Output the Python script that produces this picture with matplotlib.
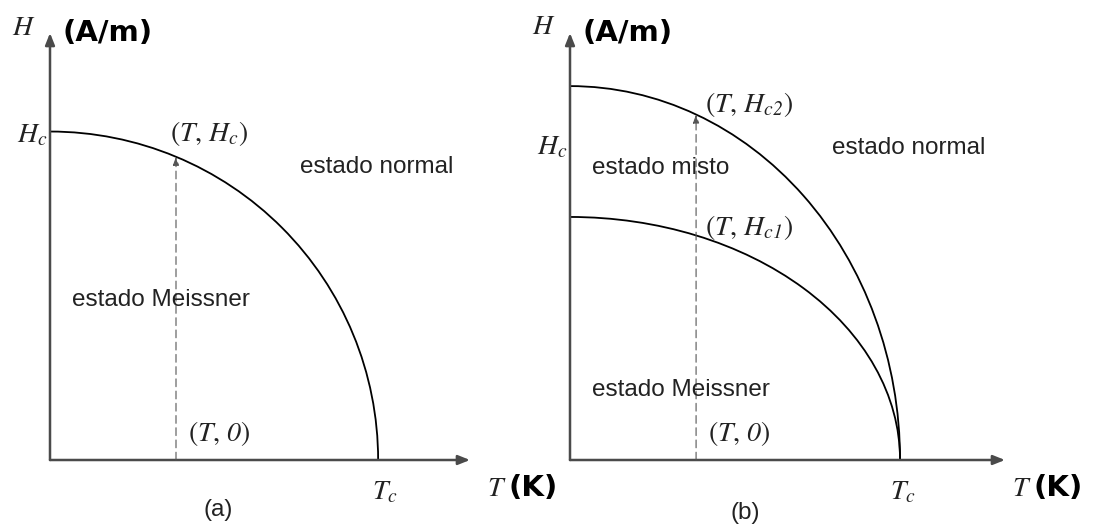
import numpy as np
import matplotlib
matplotlib.use("Agg")
import matplotlib.pyplot as plt
from matplotlib.patches import Arc

plt.rcParams["mathtext.fontset"] = "custom"
plt.rcParams["mathtext.rm"] = "STIXGeneral"
plt.rcParams["mathtext.it"] = "STIXGeneral:italic"
# italic digits: \mathsf is mapped to the italic face
plt.rcParams["mathtext.sf"] = "STIXGeneral:italic"

# Critical-field curves (reduced units: Tc = 1)
a_Tc = 1.0
a_Hc = 1.0
a_xmax, a_ymax = 1.28, 1.30

b_Tc = 1.0
b_Hc2 = 1.0
b_Hc1 = 0.65
b_Hc_tick = 0.85
b_xmax, b_ymax = 1.318, 1.142

probe_T = [0.384, 0.382]

SANS = "Liberation Sans"
AXIS_COL = "#4a4a4a"
TXT_COL = "#222222"
MATH_SIZE = 20
SANS_SIZE = 17.5
BOLD_SIZE = 21


def draw_axes(ax, xmax, ymax):
    arrow = dict(arrowstyle="-|>,head_length=0.7,head_width=0.28",
                 color=AXIS_COL, lw=1.8, shrinkA=0, shrinkB=0)
    ax.annotate("", xy=(xmax, 0), xytext=(0, 0), arrowprops=arrow)
    ax.annotate("", xy=(0, ymax), xytext=(0, 0), arrowprops=arrow)


def draw_curve(ax, tc, hc):
    ax.add_patch(Arc((0, 0), 2 * tc, 2 * hc, theta1=0, theta2=90,
                     color="black", lw=1.3))


def draw_probe(ax, t, tc, hc):
    top = hc * np.sqrt(1 - (t / tc) ** 2)
    ax.annotate("", xy=(t, top), xytext=(t, 0),
                arrowprops=dict(arrowstyle="-|>,head_length=0.5,head_width=0.18",
                                color="#555555", lw=0.8, ls=(0, (7, 4)),
                                shrinkA=0, shrinkB=0))


def math(ax, x, y, s, ha="left", size=MATH_SIZE):
    ax.text(x, y, s, ha=ha, va="center", fontsize=size, color=TXT_COL,
            clip_on=False)


def sans(ax, x, y, s, ha="left"):
    ax.text(x, y, s, ha=ha, va="center", fontsize=SANS_SIZE, family=SANS,
            color=TXT_COL, clip_on=False)


def bold(ax, x, y, s, ha="left"):
    ax.text(x, y, s, ha=ha, va="center", fontsize=BOLD_SIZE,
            family="DejaVu Sans", weight="bold", color="black", clip_on=False)


fig = plt.figure(figsize=(10.95, 5.29), dpi=100)
ax_a = fig.add_axes([50 / 1095, 69 / 529, 420 / 1095, 427 / 529])
ax_b = fig.add_axes([570 / 1095, 69 / 529, 435 / 1095, 427 / 529])

for ax, xmax, ymax in [(ax_a, a_xmax, a_ymax), (ax_b, b_xmax, b_ymax)]:
    ax.set_xlim(0, xmax)
    ax.set_ylim(0, ymax)
    ax.axis("off")
    draw_axes(ax, xmax, ymax)

# (a) type I superconductor
draw_curve(ax_a, a_Tc, a_Hc)
draw_probe(ax_a, probe_T[0], a_Tc, a_Hc)
math(ax_a, -0.079, 1.319, r"$H$", ha="center")
bold(ax_a, 0.038, 1.300, "(A/m)")
math(ax_a, -0.008, a_Hc - 0.01, r"$H_c$", ha="right")
math(ax_a, 0.366, 0.995, r"$(T,\, H_c)$")
sans(ax_a, 0.762, 0.891, "estado normal")
sans(ax_a, 0.067, 0.486, "estado Meissner")
math(ax_a, 0.421, 0.082, r"$(T,\, \mathsf{0})$")
math(ax_a, a_Tc + 0.02, -0.095, r"$T_c$", ha="center")
math(ax_a, 1.332, -0.085, r"$T$")
bold(ax_a, 1.398, -0.085, "(K)")
sans(ax_a, 0.512, -0.152, "(a)", ha="center")

# (b) type II superconductor
draw_curve(ax_b, b_Tc, b_Hc2)
draw_curve(ax_b, b_Tc, b_Hc1)
draw_probe(ax_b, probe_T[1], b_Tc, b_Hc2)
math(ax_b, -0.079, 1.160, r"$H$", ha="center")
bold(ax_b, 0.037, 1.143, "(A/m)")
math(ax_b, -0.008, b_Hc_tick - 0.01, r"$H_c$", ha="right")
math(ax_b, 0.409, 0.950, r"$(T,\, H_{c\mathsf{2}})$")
sans(ax_b, 0.067, 0.781, "estado misto")
sans(ax_b, 0.794, 0.834, "estado normal")
math(ax_b, 0.409, 0.623, r"$(T,\, H_{c\mathsf{1}})$")
sans(ax_b, 0.067, 0.187, "estado Meissner")
math(ax_b, 0.418, 0.072, r"$(T,\, \mathsf{0})$")
math(ax_b, b_Tc + 0.009, -0.083, r"$T_c$", ha="center")
math(ax_b, 1.339, -0.075, r"$T$")
bold(ax_b, 1.403, -0.075, "(K)")
sans(ax_b, 0.530, -0.142, "(b)", ha="center")

fig.savefig("out.png", dpi=100, facecolor="white")
